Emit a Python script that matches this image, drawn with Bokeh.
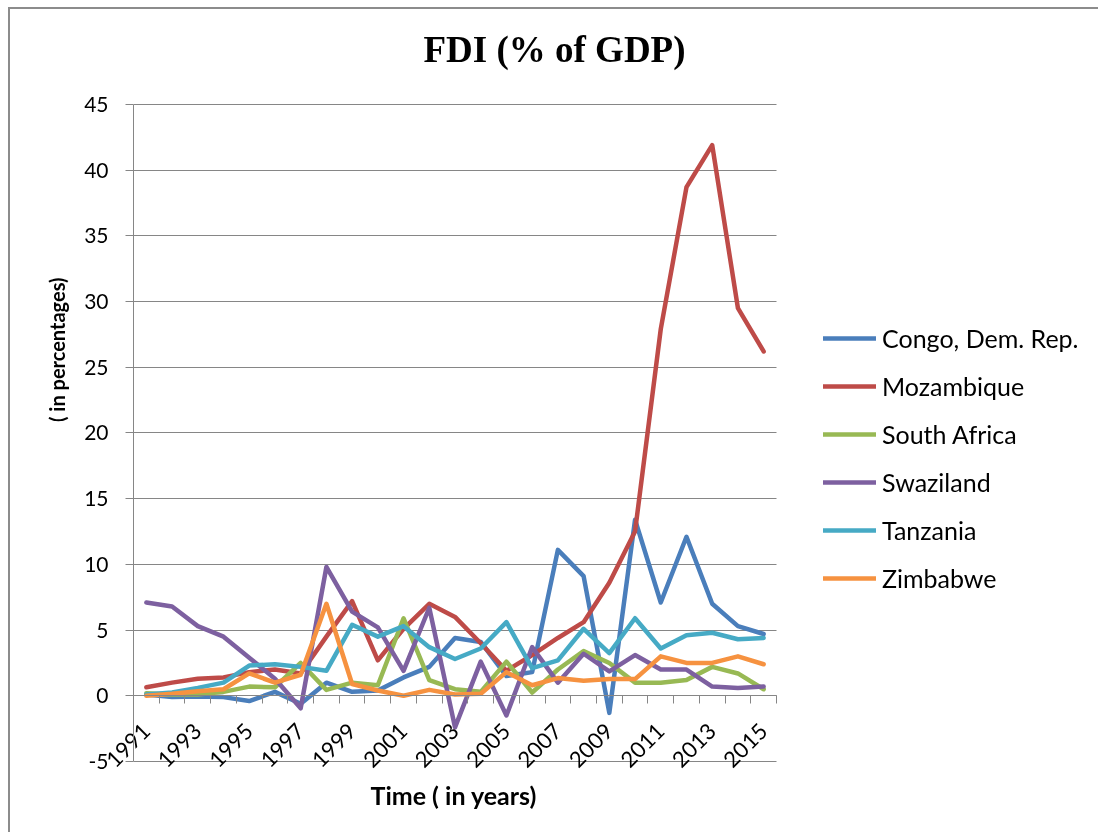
from bokeh.plotting import figure
from bokeh.models import (FixedTicker, Legend, LegendItem, LinearAxis, Title,
                          Label, Range1d)
from bokeh.embed import file_html
from bokeh.resources import INLINE

# FDI net inflows, % of GDP, 1991-2015
years = list(range(1991, 2016))
congo = [0.1, -0.1, -0.05, -0.1, -0.4, 0.3, -0.6, 1.0, 0.3, 0.4, 1.4, 2.2, 4.4,
         4.1, 1.5, 1.8, 11.1, 9.1, -1.3, 13.4, 7.1, 12.1, 7.0, 5.3, 4.7]
mozambique = [0.65, 1.0, 1.3, 1.4, 1.8, 2.0, 1.7, 4.5, 7.2, 2.7, 5.1, 7.0, 6.0,
              4.0, 1.9, 3.1, 4.4, 5.6, 8.6, 12.5, 27.9, 38.7, 41.9, 29.5, 26.2]
south_africa = [0.2, 0.1, 0.1, 0.3, 0.7, 0.65, 2.5, 0.45, 1.0, 0.8, 5.9, 1.2, 0.5,
                0.3, 2.6, 0.25, 2.0, 3.4, 2.5, 1.0, 1.0, 1.2, 2.2, 1.7, 0.5]
swaziland = [7.1, 6.8, 5.3, 4.5, 2.9, 1.3, -0.95, 9.8, 6.4, 5.2, 1.9, 6.7, -2.4,
             2.6, -1.5, 3.7, 1.0, 3.2, 1.85, 3.1, 2.0, 2.0, 0.7, 0.6, 0.7]
tanzania = [0.1, 0.25, 0.6, 1.0, 2.3, 2.4, 2.2, 1.9, 5.4, 4.5, 5.3, 3.7, 2.8,
            3.6, 5.6, 2.1, 2.7, 5.1, 3.25, 5.9, 3.6, 4.6, 4.8, 4.3, 4.4]
zimbabwe = [0.0, 0.15, 0.35, 0.5, 1.7, 1.0, 1.6, 7.0, 0.9, 0.4, 0.0, 0.45, 0.1,
            0.15, 1.8, 0.8, 1.35, 1.15, 1.27, 1.27, 3.0, 2.5, 2.5, 3.0, 2.4]

countries = ["Congo, Dem. Rep.", "Mozambique", "South Africa",
             "Swaziland", "Tanzania", "Zimbabwe"]
series = [congo, mozambique, south_africa, swaziland, tanzania, zimbabwe]
colors = ["#4A7EBB", "#BE4B48", "#98B954", "#7D60A0", "#46AAC5", "#F69240"]

y_ticks = list(range(-5, 50, 5))
x_labels = list(range(1991, 2016, 2))

SANS = "Lato"
GRAY = "#868686"

# plot-area geometry in pixels; the frame also covers the title and legend space
X0, X1 = years[0] - 0.5, years[-1] + 0.5
Y0, Y1 = -5, 45
AREA_W, AREA_H = 643, 658
LEFT, RIGHT_EXTRA, TOP_EXTRA, BOTTOM = 123, 324, 95, 72
px_x = AREA_W / (X1 - X0)
px_y = AREA_H / (Y1 - Y0)

p = figure(width=LEFT + AREA_W + RIGHT_EXTRA, height=TOP_EXTRA + AREA_H + BOTTOM,
           x_range=Range1d(X0, X1 + RIGHT_EXTRA / px_x),
           y_range=Range1d(Y0 - 1 / px_y, Y1 + TOP_EXTRA / px_y),
           output_backend="svg", toolbar_location=None,
           min_border_left=LEFT, min_border_right=0,
           min_border_top=0, min_border_bottom=BOTTOM)
# grey chart-area border on the top and left edges
p.styles = {"position": "fixed", "left": "8px", "top": "7px",
            "border-left": "2px solid #8c8c8c", "border-top": "2px solid #8c8c8c"}
p.outline_line_color = None
p.title.visible = False

# chart title, centred over the chart area
p.add_layout(Label(x=X0 + 421 / px_x, y=Y1 + 55 / px_y, text="FDI (% of GDP)",
                   text_font="Liberation Serif", text_font_style="bold",
                   text_font_size="37px", text_color="black",
                   text_align="center", text_baseline="alphabetic"))

p.add_layout(Title(text="( in percentages)", align="right", offset=268,
                   text_font=SANS, text_font_style="bold", text_color="black",
                   text_font_size="20px", standoff=26), "left")

# value axis with gridlines every 5
ya = p.yaxis[0]
ya.bounds = (Y0, Y1)
ya.ticker = FixedTicker(ticks=y_ticks)
ya.major_label_overrides = {-5: "-5"}
ya.axis_line_color = GRAY
ya.major_tick_line_color = GRAY
ya.major_tick_out = 8
ya.major_tick_in = 0
ya.minor_tick_line_color = None
ya.major_label_standoff = 17
ya.major_label_text_font = SANS
ya.major_label_text_font_size = "21px"
ya.major_label_text_color = "black"
p.ygrid.ticker = FixedTicker(ticks=y_ticks)
p.ygrid.cross_bounds = (X0, X1)
p.ygrid.grid_line_color = GRAY
p.xgrid.visible = False

# year labels, every other year
xa = p.xaxis[0]
xa.bounds = (X0, X1)
xa.ticker = FixedTicker(ticks=x_labels)
xa.axis_line_color = None
xa.major_tick_line_color = None
xa.minor_tick_line_color = None
xa.major_label_orientation = 0.785398
xa.major_label_standoff = -41
xa.major_label_text_font = SANS
xa.major_label_text_font_size = "22px"
xa.major_label_text_color = "black"

# category axis line crossing at zero, with ticks between the years
boundaries = [y - 0.5 for y in years] + [X1]
zero_axis = LinearAxis(fixed_location=0, bounds=(X0, X1),
                       ticker=FixedTicker(ticks=[], minor_ticks=boundaries),
                       axis_line_color=GRAY, major_tick_line_color=None,
                       minor_tick_line_color=GRAY, minor_tick_out=8,
                       minor_tick_in=0, major_label_text_font_size="0px",
                       major_label_standoff=0)
p.add_layout(zero_axis, "below")

# horizontal axis title, under the plot area
p.add_layout(Title(text="Time ( in years)", align="left", offset=237,
                   text_font=SANS, text_font_style="bold", text_color="black",
                   text_font_size="25px", text_line_height=0.85, standoff=0),
             "below")

renderers = []
for name, vals, col in zip(countries, series, colors):
    r = p.line(years, vals, line_color=col, line_width=4.5,
               line_join="round", line_cap="round")
    renderers.append((name, r))

legend = Legend(items=[LegendItem(label=n, renderers=[r]) for n, r in renderers],
                location=(690, 160), padding=0, margin=0, spacing=0,
                glyph_width=53, glyph_height=48, label_height=48,
                label_standoff=6, border_line_color=None,
                background_fill_alpha=0, label_text_color="black",
                label_text_font=SANS, label_text_font_size="25px",
                label_text_baseline="middle")
p.add_layout(legend, "center")

open("out.html", "w").write(file_html(p, INLINE))
